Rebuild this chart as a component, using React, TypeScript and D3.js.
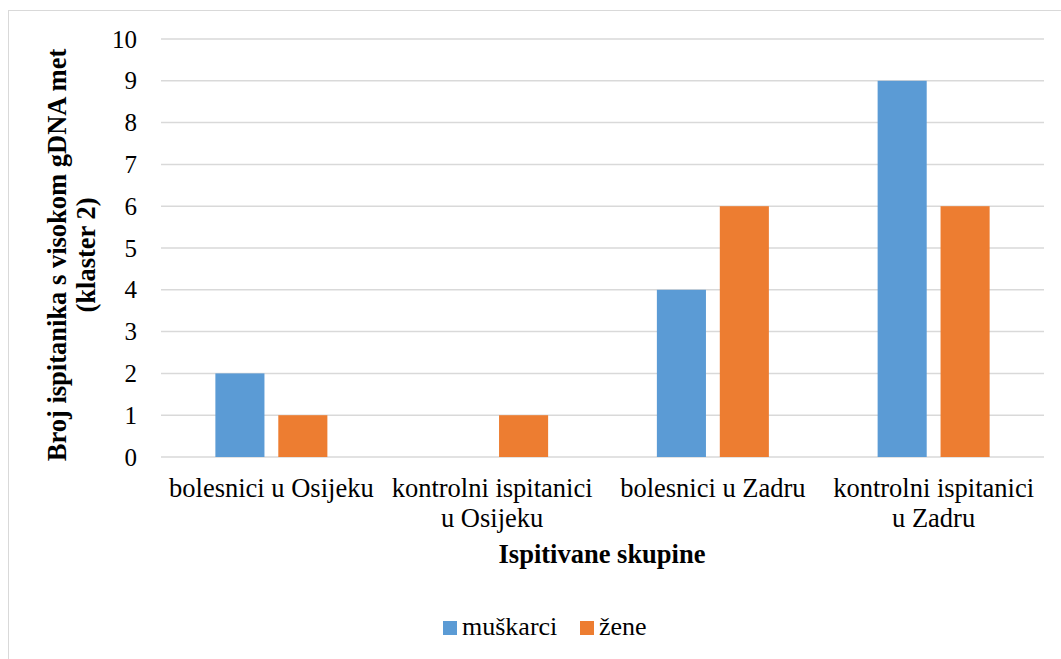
import React from 'react';
import * as d3 from 'd3';

const categories = [
  ['bolesnici u Osijeku'],
  ['kontrolni ispitanici', 'u Osijeku'],
  ['bolesnici u Zadru'],
  ['kontrolni ispitanici', 'u Zadru'],
];
const seriesNames = ['muškarci', 'žene'];
const muskarci = [2, 0, 4, 9];
const zene = [1, 1, 6, 6];
const yTicks = [0, 1, 2, 3, 4, 5, 6, 7, 8, 9, 10];
const colors = ['#5b9bd5', '#ed7d31'];

const W = 1061;
const H = 659;
const font = '"Liberation Serif", "Times New Roman", serif';

const App = () => {
  const plot = { left: 161, right: 1044, top: 39, bottom: 457 };
  const x0 = d3.scaleBand<number>()
    .domain(categories.map((_, i) => i))
    .range([plot.left, plot.right]);
  const y = d3.scaleLinear().domain([0, 10]).range([plot.bottom, plot.top]);
  const values = [muskarci, zene];

  return (
    <svg width={W} height={H} style={{ position: 'absolute', left: 0, top: 0 }} fontFamily={font}>
      <rect x={0} y={0} width={W} height={H} fill="#fff" />
      <rect x={8.5} y={10.5} width={W + 10} height={H + 10} fill="none" stroke="#d9d9d9" />

      {yTicks.map(t => (
        <g key={t}>
          <line x1={plot.left} x2={plot.right} y1={y(t)} y2={y(t)} stroke="#d9d9d9" strokeWidth={1.5} />
          <text x={137} y={y(t)} dy="0.34em" textAnchor="end" fontSize={25} fill="#000">{t}</text>
        </g>
      ))}

      {categories.map((lines, i) => {
        const c = (x0(i) as number) + x0.bandwidth() / 2;
        const x1 = d3.scaleBand<number>().domain([0, 1]).range([c - 56, c + 56]).paddingInner(0.22);
        return (
          <g key={i}>
            {values.map((vals, s) => vals[i] > 0 ? (
              <rect key={s} x={x1(s)} y={y(vals[i])} width={x1.bandwidth()}
                height={y(0) - y(vals[i])} fill={colors[s]} />
            ) : null)}
            {lines.map((l, k) => (
              <text key={k} x={c} y={497 + k * 30} textAnchor="middle" fontSize={26.5} fill="#000">{l}</text>
            ))}
          </g>
        );
      })}

      <text x={602} y={563} textAnchor="middle" fontSize={26.5} fontWeight="bold" fill="#000">Ispitivane skupine</text>

      <g transform={`translate(66, 255) rotate(-90)`}>
        <text x={0} y={0} textAnchor="middle" fontSize={26.5} fontWeight="bold" fill="#000">Broj ispitanika s visokom gDNA met</text>
        <text x={0} y={29} textAnchor="middle" fontSize={26.5} fontWeight="bold" fill="#000">(klaster 2)</text>
      </g>

      <g fontSize={26}>
        {seriesNames.map((n, s) => {
          const lx = [443, 580][s];
          return (
            <g key={n}>
              <rect x={lx} y={621} width={14} height={14} fill={colors[s]} />
              <text x={lx + 19} y={635} fill="#000">{n}</text>
            </g>
          );
        })}
      </g>
    </svg>
  );
};

export default App;
